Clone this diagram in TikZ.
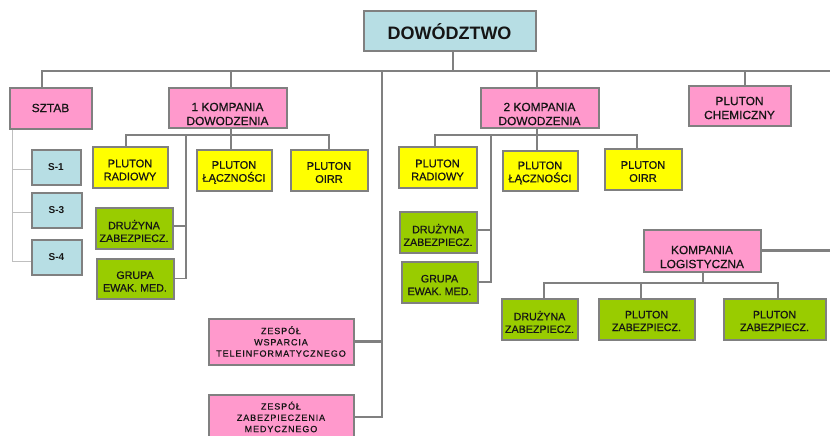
\documentclass[tikz,border=0pt]{standalone}
\usepackage{fontspec}
\setmainfont[FakeBold=0.6]{Liberation Sans}
\newfontfamily\normfont[FakeBold=0.6]{Liberation Sans}
\newfontfamily\boldfont{Liberation Sans Bold}
\newfontfamily\spacedfont[LetterSpace=10,FakeBold=0.5]{Liberation Sans}
\definecolor{cblue}{HTML}{B7DEE4}
\definecolor{cpink}{HTML}{FF99CC}
\definecolor{cyel}{HTML}{FFFF00}
\definecolor{cgreen}{HTML}{99CC00}
\definecolor{lnc}{HTML}{808080}
\definecolor{lightln}{HTML}{BFBFBF}
\definecolor{textc}{HTML}{151515}
\begin{document}
\begin{tikzpicture}[x=1pt,y=-1pt,
  box/.style={draw=lnc, line width=2pt, inner sep=0pt},
  bbox/.style={box, fill=cblue},
  pbox/.style={box, fill=cpink},
  ybox/.style={box, fill=cyel},
  gbox/.style={box, fill=cgreen},
  tbase/.style={align=center, text=textc, inner sep=0pt},
  tk/.style={tbase, font=\normfont\fontsize{11.9}{14}\selectfont},
  ty/.style={tbase, font=\normfont\fontsize{11}{13}\selectfont},
  tg/.style={tbase, font=\normfont\fontsize{10.7}{12.7}\selectfont},
  ts/.style={tbase, font=\boldfont\fontsize{10}{12}\selectfont},
  tz/.style={tbase, font=\spacedfont\fontsize{9}{11.3}\selectfont},
  conn/.style={draw=lnc, line width=2.2pt},
  sub/.style={draw=lnc, line width=1.8pt},
  sl/.style={draw=lightln, line width=1pt}]
\clip (0,0) rectangle (830,436);

% top
\node[bbox, minimum width=172, minimum height=40,
  label={[tbase, font=\boldfont\fontsize{18}{20}\selectfont]center:DOWÓDZTWO}] (dow) at (449.5,31.5) {};

% first level
\node[pbox, minimum width=82, minimum height=41, label={[tk]center:SZTAB}] (sztab) at (50.5,108) {};
\node[pbox, minimum width=118, minimum height=40, label={[tk,yshift=-6.5pt]center:{1 KOMPANIA\\DOWODZENIA}}] (k1) at (227.5,107.5) {};
\node[pbox, minimum width=118, minimum height=40, label={[tk,yshift=-6.5pt]center:{2 KOMPANIA\\DOWODZENIA}}] (k2) at (539.5,107.5) {};
\node[pbox, minimum width=102, minimum height=40, label={[tk,yshift=-2.5pt]center:{PLUTON\\CHEMICZNY}}] (chem) at (739.5,105.5) {};

% S boxes
\node[bbox, minimum width=49, minimum height=35, label={[ts]center:S-1}] (s1) at (56,167) {};
\node[bbox, minimum width=50, minimum height=35, label={[ts]center:S-3}] (s3) at (56.5,210) {};
\node[bbox, minimum width=50, minimum height=35, label={[ts]center:S-4}] (s4) at (56.5,257) {};

% 1 kompania children
\node[ybox, minimum width=75, minimum height=41, label={[ty,yshift=-3pt]center:{PLUTON\\RADIOWY}}] (pr1) at (130,167) {};
\node[ybox, minimum width=75, minimum height=41, label={[ty,yshift=-2.5pt]center:{PLUTON\\ŁĄCZNOŚCI}}] (pl1) at (234,170) {};
\node[ybox, minimum width=77, minimum height=41, label={[ty,yshift=-2.5pt]center:{PLUTON\\OIRR}}] (po1) at (329,170) {};
\node[gbox, minimum width=77, minimum height=41, label={[tg,yshift=-3pt]center:{DRUŻYNA\\ZABEZPIECZ.}}] (d1) at (134,228) {};
\node[gbox, minimum width=77, minimum height=40, label={[tg,yshift=-3pt]center:{GRUPA\\EWAK. MED.}}] (g1) at (135,278.5) {};

% 2 kompania children
\node[ybox, minimum width=78, minimum height=41, label={[ty,yshift=-3pt]center:{PLUTON\\RADIOWY}}] (pr2) at (437.5,167) {};
\node[ybox, minimum width=75, minimum height=40, label={[ty,yshift=-2.5pt]center:{PLUTON\\ŁĄCZNOŚCI}}] (pl2) at (540,170.5) {};
\node[ybox, minimum width=77, minimum height=41, label={[ty,yshift=-2.5pt]center:{PLUTON\\OIRR}}] (po2) at (643,169) {};
\node[gbox, minimum width=77, minimum height=41, label={[tg,yshift=-3pt]center:{DRUŻYNA\\ZABEZPIECZ.}}] (d2) at (438,232) {};
\node[gbox, minimum width=76, minimum height=41, label={[tg,yshift=-3pt]center:{GRUPA\\EWAK. MED.}}] (g2) at (439.5,282) {};

% zespoly
\node[pbox, minimum width=145, minimum height=46, label={[tz]center:{ZESPÓŁ\\WSPARCIA\\TELEINFORMATYCZNEGO}}] (zw) at (281,341.5) {};
\node[pbox, minimum width=145, minimum height=45, label={[tz]center:{ZESPÓŁ\\ZABEZPIECZENIA\\MEDYCZNEGO}}] (zm) at (281,417) {};

% kompania logistyczna
\node[pbox, minimum width=117, minimum height=42, label={[tk,yshift=-6.5pt]center:{KOMPANIA\\LOGISTYCZNA}}] (kl) at (702,250.5) {};
\node[gbox, minimum width=76, minimum height=41, label={[tg,yshift=-3pt]center:{DRUŻYNA\\ZABEZPIECZ.}}] (ld) at (539.5,319) {};
\node[gbox, minimum width=96, minimum height=41, label={[tg,yshift=-2pt]center:{PLUTON\\ZABEZPIECZ.}}] (lp1) at (646.5,319) {};
\node[gbox, minimum width=102, minimum height=41, label={[tg,yshift=-2pt]center:{PLUTON\\ZABEZPIECZ.}}] (lp2) at (774.5,319) {};

% main bus
\coordinate (busR) at (830,71);
\draw[conn] ([xshift=3.5pt]dow.south) -- ([xshift=3.5pt]dow.south |- busR);
\draw[conn] ([xshift=-8.5pt]sztab.north) |- (busR);
\draw[conn] ([xshift=3.5pt]k1.north) -- ([xshift=3.5pt]k1.north |- busR);
\draw[conn] ([xshift=-2.5pt]k2.north) -- ([xshift=-2.5pt]k2.north |- busR);
\draw[conn] ([xshift=5.5pt]chem.north) -- ([xshift=5.5pt]chem.north |- busR);
\coordinate (vz) at (382,71);
\draw[conn] (vz) |- (zm.east);
\draw[conn] (zw.east) -- (zw.east -| vz);
\draw[conn] (kl.east) -- (kl.east -| busR);

% sztab sections
\coordinate (sv) at (12,129);
\draw[sl] ([xshift=-38.5pt]sztab.south) |- ([yshift=-4pt]s4.west);
\draw[sl] ([yshift=-2pt]s1.west) -- ([yshift=-2pt]s1.west -| sv);
\draw[sl] ([yshift=-2pt]s3.west) -- ([yshift=-2pt]s3.west -| sv);

% 1 kompania
\coordinate (k1b) at (231,135);
\draw[sub] ([xshift=3.5pt]k1.south) -- (k1b);
\draw[sub] ([xshift=-4pt]pr1.north) |- (k1b) -| (po1.north);
\draw[sub] ([xshift=-3pt]pl1.north) -- ([xshift=-3pt]pl1.north |- k1b);
\coordinate (k1v) at (186,135);
\draw[sub] (k1v) |- (g1.east);
\draw[sub] ([yshift=2pt]d1.east) -- ([yshift=2pt]d1.east -| k1v);

% 2 kompania
\coordinate (k2b) at (537,135);
\draw[sub] ([xshift=-2.5pt]k2.south) -- (k2b);
\draw[sub] ([xshift=-2.5pt]pr2.north) |- (k2b) -| ([xshift=-6pt]po2.north);
\draw[sub] ([xshift=-3pt]pl2.north) -- ([xshift=-3pt]pl2.north |- k2b);
\coordinate (k2v) at (491,135);
\draw[sub] (k2v) |- (g2.east);
\draw[sub] ([yshift=2pt]d2.east) -- ([yshift=2pt]d2.east -| k2v);

% kompania logistyczna
\coordinate (klb) at (703,283);
\draw[sub] ([xshift=1pt]kl.south) -- (klb);
\draw[sub] ([xshift=4.5pt]ld.north) |- (klb) -| ([xshift=3.5pt]lp2.north);
\draw[sub] ([xshift=-5.5pt]lp1.north) -- ([xshift=-5.5pt]lp1.north |- klb);
\end{tikzpicture}
\end{document}
